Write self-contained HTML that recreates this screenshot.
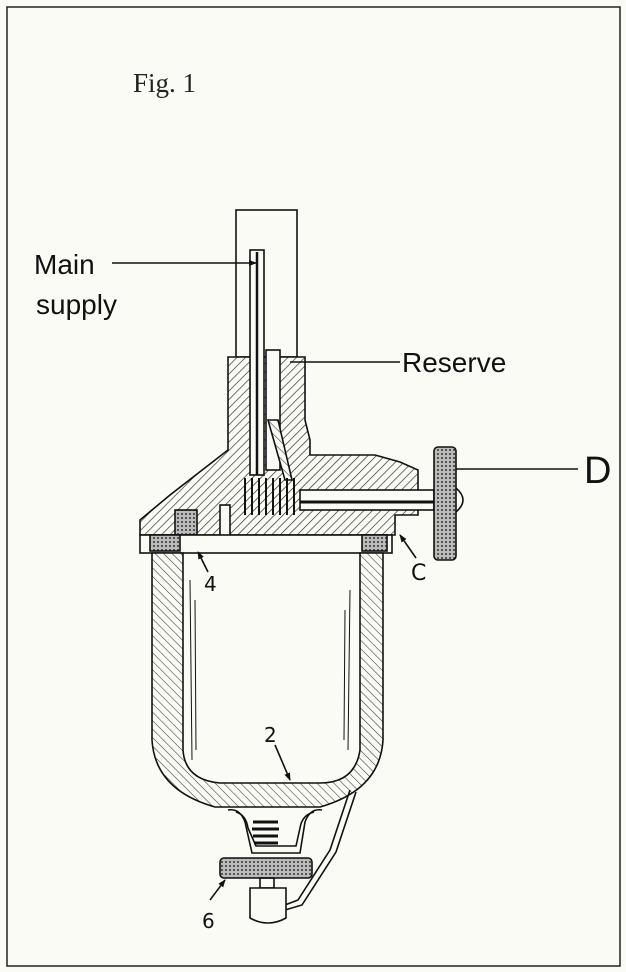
<!DOCTYPE html>
<html><head><meta charset="utf-8"><style>
html,body{margin:0;padding:0;background:#fbfbf6;}
svg{display:block;}
</style></head><body>
<svg width="626" height="972" viewBox="0 0 626 972" xmlns="http://www.w3.org/2000/svg">
<defs>
<pattern id="h" width="6" height="6" patternUnits="userSpaceOnUse" patternTransform="rotate(45)">
<rect width="6" height="6" fill="#fbfbf6"/><line x1="0" y1="0" x2="0" y2="6" stroke="#222" stroke-width="1.3"/></pattern>
<pattern id="hb" width="6" height="6" patternUnits="userSpaceOnUse" patternTransform="rotate(-45)">
<rect width="6" height="6" fill="#fbfbf6"/><line x1="0" y1="0" x2="0" y2="6" stroke="#333" stroke-width="1.1"/></pattern>
<pattern id="k" width="4" height="4" patternUnits="userSpaceOnUse">
<rect width="4" height="4" fill="#bbb"/><circle cx="2" cy="2" r="1" fill="#333"/></pattern>
<marker id="a" markerWidth="8" markerHeight="8" refX="7" refY="4" orient="auto" markerUnits="userSpaceOnUse">
<path d="M0 1 L8 4 L0 7 Z" fill="#111"/></marker>
</defs>
<rect x="7" y="7" width="613" height="959" fill="none" stroke="#222" stroke-width="1.5"/>
<text x="133" y="92" font-family="Liberation Serif, serif" font-size="27" fill="#222">Fig. 1</text>

<g stroke="#111" stroke-width="1.6" fill="none">
<rect x="236" y="210" width="61" height="147" fill="#fbfbf6"/>
<path d="M228 357 L305 357 L305 420 L310 440 L310 455 L375 455 L400 462 L418 470 L418 515 L395 515 L395 535 L140 535 L140 520 L170 495 L228 450 Z" fill="url(#h)"/>
<rect x="250" y="250" width="14" height="225" fill="#fbfbf6"/>
<line x1="257" y1="252" x2="257" y2="475" stroke-width="2.5"/>
<rect x="266" y="350" width="14" height="120" fill="#fbfbf6"/>
<path d="M268 420 L285 480 L292 480 L278 420 Z" fill="url(#hb)"/>
<path d="M245 478 L245 515 M252 478 L252 515 M259 478 L259 515 M266 478 L266 515 M273 478 L273 515 M280 478 L280 515 M287 478 L287 515 M294 478 L294 515" stroke-width="2"/>
<rect x="300" y="490" width="134" height="20" fill="#fbfbf6"/>
<line x1="300" y1="502" x2="434" y2="502" stroke-width="3"/>
<path d="M456 488 Q470 500 456 512" fill="#fbfbf6"/>
<rect x="434" y="447" width="22" height="113" rx="4" fill="url(#k)"/>
<rect x="175" y="510" width="22" height="25" fill="url(#k)"/>
<rect x="220" y="505" width="10" height="45" fill="#fbfbf6"/>
<rect x="140" y="535" width="252" height="18" fill="#fbfbf6"/>
<rect x="150" y="535" width="30" height="16" fill="url(#k)"/>
<rect x="362" y="535" width="25" height="16" fill="url(#k)"/>
<path d="M152 553 L152 740 Q155 790 215 807 L320 807 Q380 790 383 740 L383 553 L360 553 L360 750 Q355 783 320 783 L220 783 Q185 780 183 750 L183 553 Z" fill="url(#hb)"/>
<line x1="190" y1="580" x2="192" y2="760" stroke-width="1"/>
<line x1="195" y1="600" x2="196" y2="750" stroke-width="1"/>
<line x1="350" y1="590" x2="348" y2="750" stroke-width="1"/>
<line x1="345" y1="610" x2="344" y2="740" stroke-width="1"/>
<path d="M228 810 Q240 808 245 822 L252 853 L300 853 L305 822 Q310 808 322 810" />
<path d="M236 812 Q246 815 248 828 L256 846 L296 846 L300 828 Q302 815 314 812" />
<path d="M253 822 h25 M252 829 h27 M253 836 h25 M254 843 h24" stroke-width="3"/>
<path d="M350 790 L330 850 L298 900 L285 905 M356 792 L336 852 L302 905 L285 910"/>
<rect x="220" y="858" width="92" height="20" rx="4" fill="url(#k)"/>
<rect x="260" y="878" width="14" height="10"/>
<path d="M250 888 L286 888 L286 918 Q268 928 250 918 Z" fill="#fbfbf6"/>
<line x1="112" y1="263" x2="256" y2="263" marker-end="url(#a)"/>
<line x1="290" y1="362" x2="400" y2="362"/>
<line x1="456" y1="469" x2="578" y2="469"/>
<line x1="416" y1="558" x2="400" y2="535" marker-end="url(#a)"/>
<line x1="208" y1="572" x2="198" y2="552" marker-end="url(#a)"/>
<line x1="275" y1="745" x2="290" y2="780" marker-end="url(#a)"/>
<line x1="210" y1="900" x2="225" y2="880" marker-end="url(#a)"/>
</g>
<g font-family="DejaVu Sans, sans-serif" fill="#111">
<text x="34" y="274" font-size="28" font-family="Liberation Sans Narrow, Liberation Sans, sans-serif">Main</text>
<text x="36" y="314" font-size="28" font-family="Liberation Sans Narrow, Liberation Sans, sans-serif">supply</text>
<text x="402" y="372" font-size="28" font-family="Liberation Sans Narrow, Liberation Sans, sans-serif">Reserve</text>
<text x="584" y="483" font-size="38" font-family="Liberation Sans, sans-serif">D</text>
<text x="411" y="580" font-size="22">C</text>
<text x="204" y="591" font-size="20">4</text>
<text x="264" y="742" font-size="20">2</text>
<text x="202" y="928" font-size="20">6</text>
</g>
</svg>
</body></html>
